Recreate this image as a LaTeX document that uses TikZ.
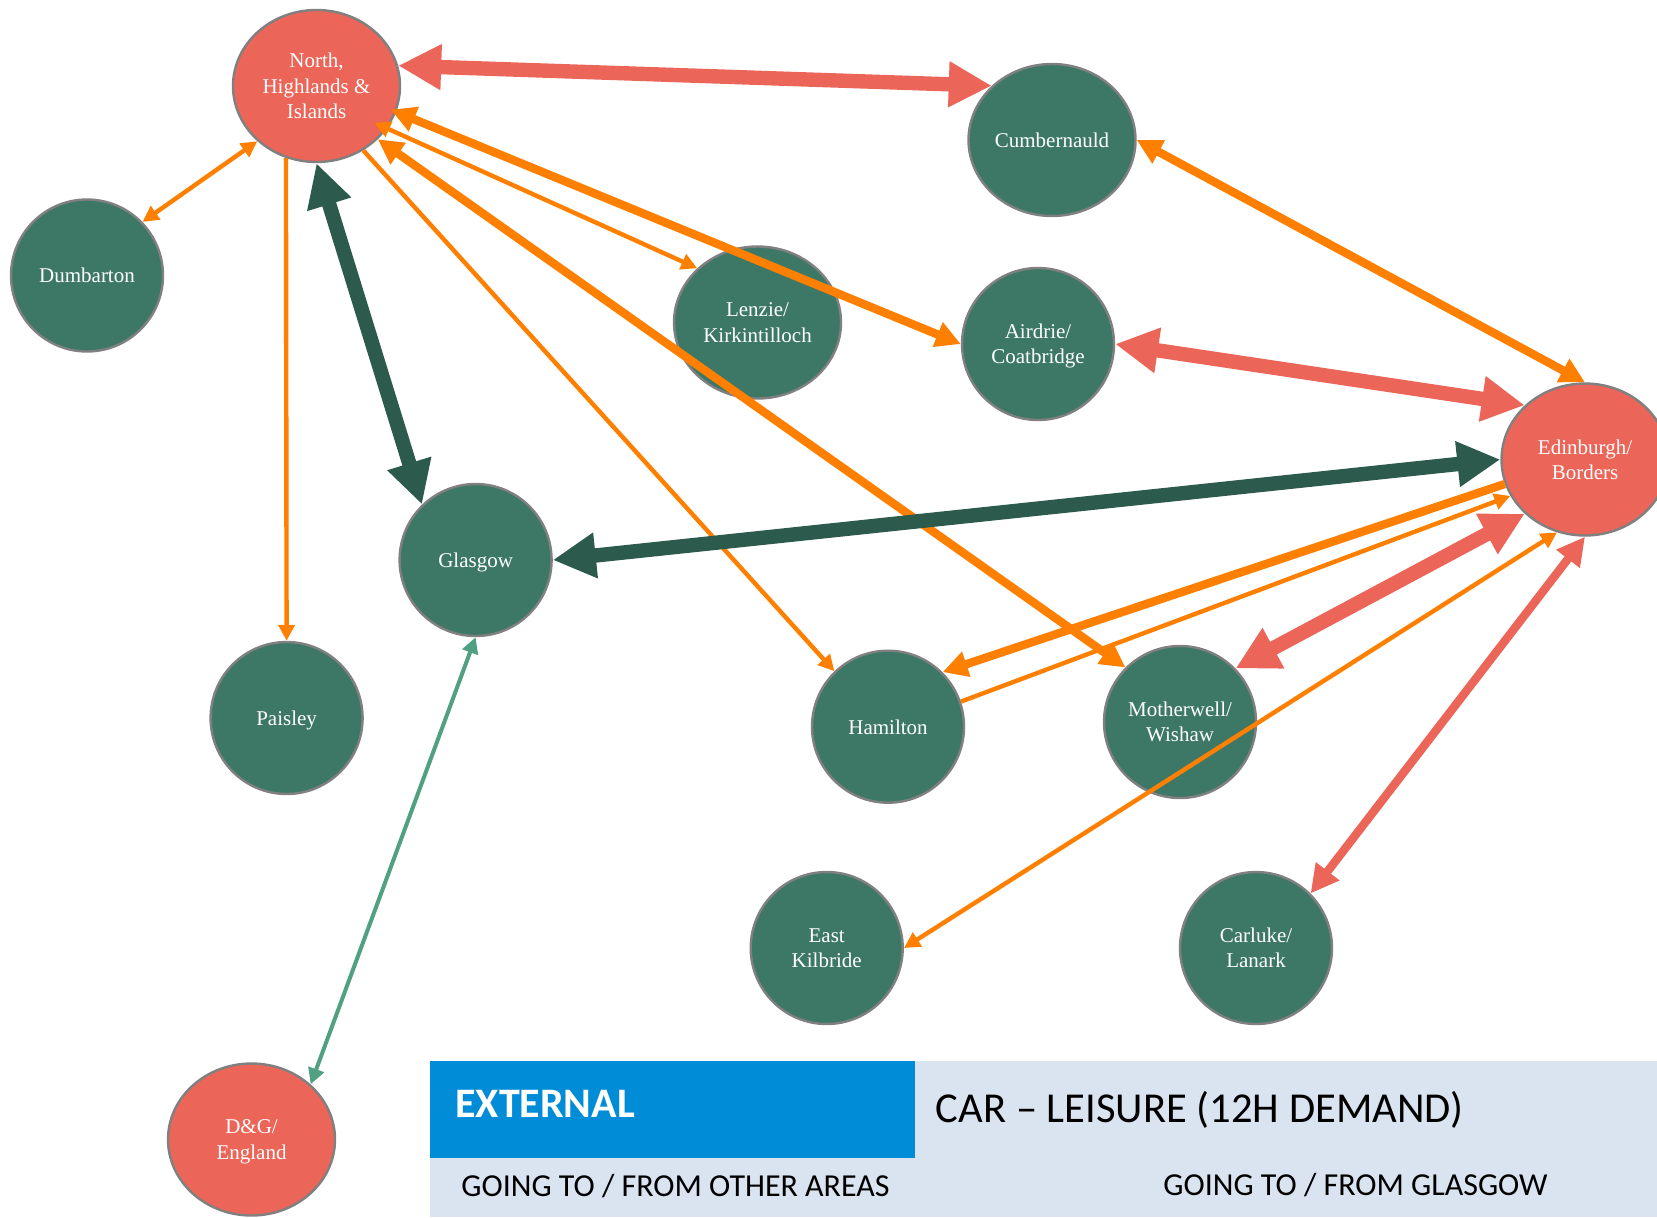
\documentclass[tikz,border=0pt]{standalone}
\usepackage{fontspec}
\setmainfont{Liberation Serif}
\newfontfamily\bannerfont{Carlito}
\usetikzlibrary{shapes.geometric,arrows.meta}

\definecolor{zonegreen}{HTML}{3D7866}
\definecolor{zonered}{HTML}{EB6559}
\definecolor{rimgrey}{HTML}{808080}
\definecolor{linkorange}{HTML}{FF7F00}
\definecolor{linkgreen}{HTML}{2C5A4C}
\definecolor{linkmint}{HTML}{50A082}
\definecolor{bannerblue}{HTML}{008CD6}
\definecolor{bannerpale}{HTML}{DAE3F0}

\newcommand{\zonefont}{\fontsize{10.5}{12.65}\selectfont}

\pgfdeclarelayer{edgelayer}
\pgfdeclarelayer{nodelayer}
\pgfsetlayers{nodelayer,edgelayer,main}
\tikzstyle{zone}=[circle,minimum size=76pt,inner sep=0pt,text depth=0pt,draw=rimgrey,line width=1.2pt,fill=zonegreen,text=white,align=center,font=\zonefont]
\tikzstyle{wide zone}=[zone,ellipse,minimum width=83.5pt,minimum height=76pt]
\tikzstyle{outer zone}=[wide zone,fill=zonered]
\tikzstyle{major red}=[draw=zonered,line width=7.2pt,>={Triangle[length=21.5pt,width=21.5pt]}]
\tikzstyle{major green}=[draw=linkgreen,line width=7.2pt,>={Triangle[length=21.5pt,width=21.5pt]}]
\tikzstyle{mid red}=[draw=zonered,line width=4.2pt,>={Triangle[length=14pt,width=14pt]}]
\tikzstyle{mid orange}=[draw=linkorange,line width=4.2pt,>={Triangle[length=12.5pt,width=12.5pt]}]
\tikzstyle{thin orange}=[draw=linkorange,line width=2.2pt,>={Triangle[length=8pt,width=8pt]}]
\tikzstyle{thin green}=[draw=linkmint,line width=2pt,>={Triangle[length=8pt,width=8pt]}]
\tikzstyle{caption}=[inner sep=0pt,anchor=base west]

\begin{document}
\begin{tikzpicture}[x=0.5pt,y=-0.5pt]
	\useasboundingbox (0,0) rectangle (1657,1217);
	\begin{pgfonlayer}{nodelayer}
		\fill [bannerpale] (429.5,1061) rectangle (1657,1217);
		\fill [bannerblue] (429.5,1061) rectangle (914.6,1157.7);
		\node [style=caption,text=white,font=\bannerfont\fontsize{21}{25}\selectfont\bfseries] (external) at (455,1117.7) {EXTERNAL};
		\node [style=caption,font=\bannerfont\fontsize{21.3}{25}\selectfont] (title) at (935.5,1122.7) {CAR – LEISURE (12H DEMAND)};
		\node [style=caption,font=\bannerfont\fontsize{16}{19}\selectfont] (others) at (461,1196.7) {GOING TO / FROM OTHER AREAS};
		\node [style=caption,font=\bannerfont\fontsize{16}{19}\selectfont] (fromgla) at (1163,1195.7) {GOING TO / FROM GLASGOW};

		\node [style=outer zone] (north) at (316.5,86) {North,\\Highlands \&\\Islands};
		\node [style=wide zone] (cumb) at (1052,140) {Cumbernauld};
		\node [style=zone] (dumb) at (87,275.5) {Dumbarton};
		\node [style=wide zone] (lenzie) at (757.5,322.5) {Lenzie/\\Kirkintilloch};
		\node [style=zone] (airdrie) at (1038,344) {Airdrie/\\Coatbridge};
		\node [style=outer zone] (edin) at (1585,459.5) {Edinburgh/\\Borders};
		\node [style=zone] (glasgow) at (475.6,560) {Glasgow};
		\node [style=zone] (paisley) at (286.6,718) {Paisley};
		\node [style=zone] (hamilton) at (888,726.7) {Hamilton};
		\node [style=zone] (mother) at (1180,722) {Motherwell/\\Wishaw};
		\node [style=zone] (ekilb) at (826.7,948) {East\\Kilbride};
		\node [style=zone] (carluke) at (1256,948) {Carluke/\\Lanark};
		\node [style=outer zone] (dng) at (251.5,1139.5) {D\&G/\\England};
	\end{pgfonlayer}
	\begin{pgfonlayer}{edgelayer}
		\draw [style=major red, <->] (north.14.2) to (cumb.138.4);
		\draw [style=thin orange, <->] (north.223) to (dumb.44.6);
		\draw [style=thin orange, ->] (north.247) to (paisley.north);
		\draw [style=major green, <->] (north.south) to (glasgow.134.5);
		\draw [style=thin orange, <->, shorten <=-7pt] (north.-31.6) to (lenzie.138.6);
		\draw [style=mid orange, <->, shorten <=-3pt] (north.-18.2) to (airdrie.west);
		\draw [style=mid orange, <->] (north.-41.5) to (mother.135.5);
		\draw [style=thin orange, ->] (north.-54.8) to (hamilton.134.6);
		\draw [style=mid orange, <->] (cumb.east) to (edin.north);
		\draw [style=major red, <->] (airdrie.east) to (edin.138.7);
		\draw [style=major green, <->] (glasgow.east) to (edin.west);
		\draw [style=mid orange, ->] (edin.197.7) to (hamilton.45.1);
		\draw [style=thin orange, ->] (hamilton.19.5) to (edin.206.3);
		\draw [style=major red, <->] (edin.222.2) to (mother.44.6);
		\draw [style=thin orange, <->] (edin.249.6) to (ekilb.east);
		\draw [style=mid red, <->] (edin.south) to (carluke.45);
		\draw [style=thin green, <->] (glasgow.south) to (dng.43);
	\end{pgfonlayer}
\end{tikzpicture}
\end{document}
